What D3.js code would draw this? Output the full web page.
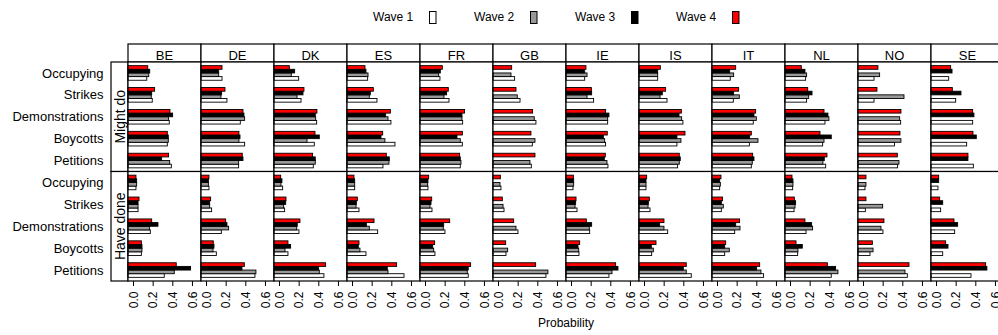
<!DOCTYPE html>
<html>
<head>
<meta charset="utf-8">
<script src="https://cdn.jsdelivr.net/npm/d3@7"></script>
<style>
  body { margin: 0; background: #fff; }
  svg { display: block; font-family: "Liberation Sans", Arial, sans-serif; }
</style>
</head>
<body>
<svg id="chart"></svg>
<script>
// categories
let countries = ["BE", "DE", "DK", "ES", "FR", "GB", "IE", "IS", "IT", "NL", "NO", "SE"];
let activities = ["Occupying", "Strikes", "Demonstrations", "Boycotts", "Petitions"];
let waves = ["Wave 1", "Wave 2", "Wave 3", "Wave 4"];
let rows = ["Might do", "Have done"];
let xTicks = [0, 0.2, 0.4, 0.6];
let waveColors = ["#ffffff", "#999999", "#000000", "#ff0000"];

// one row of 5 values (activities) per country, null = wave not fielded
let mightW1 = [
  [0.140, 0.196, 0.369, 0.349, 0.390], [0.163, 0.213, 0.349, 0.393, 0.332],
  [0.200, 0.224, 0.383, 0.359, 0.349], [0.159, 0.254, 0.396, 0.437, 0.315],
  [0.152, 0.244, 0.383, 0.380, 0.359], [0.169, 0.224, 0.386, 0.349, 0.339],
  [0.139, 0.230, 0.373, 0.352, 0.376], [0.139, 0.234, 0.396, 0.335, 0.342],
  [0.135, 0.166, 0.369, 0.329, 0.349], [0.159, 0.169, 0.356, 0.332, 0.363],
  [0.112, 0.112, 0.383, 0.320, 0.352], [0.129, 0.200, 0.373, 0.312, 0.380]
];
let mightW2 = [
  [0.160, 0.186, 0.362, 0.359, 0.373], [0.129, 0.152, 0.393, 0.335, 0.332],
  [0.125, 0.183, 0.373, 0.285, 0.369], [0.163, 0.176, 0.366, 0.335, 0.376],
  [0.139, 0.193, 0.376, 0.359, 0.366], [0.132, 0.196, 0.369, 0.376, 0.325],
  [0.163, 0.163, 0.373, 0.342, 0.366], [0.139, 0.163, 0.383, 0.376, 0.359],
  [0.169, 0.227, 0.400, 0.417, 0.359], [0.169, 0.190, 0.396, 0.346, 0.335],
  [0.169, 0.417, 0.373, 0.386, 0.366], [null, null, null, null, null]
];
let mightW3 = [
  [0.170, 0.190, 0.403, 0.359, 0.291], [0.129, 0.159, 0.386, 0.346, 0.376],
  [0.159, 0.244, 0.369, 0.410, 0.369], [0.142, 0.186, 0.342, 0.295, 0.380],
  [0.156, 0.220, 0.376, 0.325, 0.359], [null, null, null, null, null],
  [0.139, 0.210, 0.386, 0.329, 0.339], [0.139, 0.186, 0.356, 0.335, 0.369],
  [0.129, 0.169, 0.376, 0.332, 0.376], [0.152, 0.224, 0.386, 0.420, 0.349],
  [null, null, null, null, null], [0.163, 0.254, 0.386, 0.410, 0.325]
];
let mightW4 = [
  [0.150, 0.220, 0.376, 0.349, 0.362], [0.163, 0.193, 0.376, 0.335, 0.369],
  [0.105, 0.254, 0.386, 0.366, 0.342], [0.132, 0.217, 0.390, 0.312, 0.349],
  [0.176, 0.237, 0.403, 0.380, 0.352], [0.139, 0.183, 0.352, 0.335, 0.376],
  [0.152, 0.207, 0.352, 0.369, 0.349], [0.166, 0.220, 0.380, 0.417, 0.359],
  [0.190, 0.220, 0.393, 0.349, 0.363], [0.115, 0.180, 0.346, 0.305, 0.376],
  [0.152, 0.142, 0.386, 0.376, 0.349], [0.149, 0.166, 0.373, 0.376, 0.325]
];

let doneW1 = [
  [0.030, 0.051, 0.176, 0.085, 0.318], [0.030, 0.057, 0.156, 0.105, 0.498],
  [0.037, 0.057, 0.203, 0.091, 0.457], [0.027, 0.071, 0.261, 0.142, 0.529],
  [0.030, 0.071, 0.203, 0.101, 0.440], [0.030, 0.061, 0.203, 0.081, 0.488],
  [0.020, 0.061, 0.190, 0.081, 0.386], [0.020, 0.061, 0.241, 0.078, 0.481],
  [0.027, 0.044, 0.180, 0.078, 0.474], [0.027, 0.041, 0.163, 0.078, 0.420],
  [0.020, 0.024, 0.203, 0.071, 0.451], [0.020, 0.047, 0.190, 0.068, 0.356]
];
let doneW2 = [
  [0.037, 0.051, 0.169, 0.091, 0.420], [0.024, 0.037, 0.230, 0.071, 0.508],
  [0.020, 0.047, 0.180, 0.061, 0.410], [0.027, 0.041, 0.176, 0.081, 0.366],
  [0.027, 0.051, 0.186, 0.088, 0.430], [0.020, 0.051, 0.183, 0.098, 0.508],
  [0.027, 0.041, 0.186, 0.078, 0.417], [0.020, 0.041, 0.203, 0.095, 0.430],
  [0.034, 0.064, 0.234, 0.125, 0.447], [0.030, 0.051, 0.230, 0.081, 0.488],
  [0.030, 0.200, 0.183, 0.102, 0.427], [null, null, null, null, null]
];
let doneW3 = [
  [0.037, 0.051, 0.254, 0.091, 0.586], [0.024, 0.037, 0.213, 0.081, 0.366],
  [0.030, 0.068, 0.186, 0.118, 0.403], [0.027, 0.044, 0.146, 0.064, 0.359],
  [0.030, 0.061, 0.190, 0.078, 0.440], [null, null, null, null, null],
  [0.027, 0.047, 0.210, 0.071, 0.478], [0.020, 0.044, 0.159, 0.074, 0.400],
  [0.027, 0.044, 0.190, 0.078, 0.403], [0.030, 0.057, 0.220, 0.125, 0.464],
  [null, null, null, null, null], [0.027, 0.068, 0.220, 0.122, 0.518]
];
let doneW4 = [
  [0.030, 0.061, 0.190, 0.085, 0.440], [0.030, 0.047, 0.200, 0.074, 0.390],
  [0.017, 0.071, 0.213, 0.091, 0.474], [0.020, 0.054, 0.224, 0.071, 0.454],
  [0.037, 0.068, 0.251, 0.098, 0.464], [0.024, 0.044, 0.159, 0.078, 0.383],
  [0.024, 0.051, 0.156, 0.088, 0.454], [0.027, 0.054, 0.203, 0.122, 0.430],
  [0.040, 0.057, 0.230, 0.088, 0.434], [0.020, 0.044, 0.152, 0.061, 0.380],
  [0.030, 0.030, 0.213, 0.095, 0.468], [0.027, 0.037, 0.183, 0.098, 0.505]
];

let panelData = [[mightW1, mightW2, mightW3, mightW4], [doneW1, doneW2, doneW3, doneW4]];

let svgWidth = 998, svgHeight = 335;
let left = 128, panelW = 73, panelH = 109.5, stripTop = 44, panelTop = 62, leftStrip = 17;

let svg = d3.select('#chart')
    .attr("width", svgWidth)
    .attr("height", svgHeight);

let x = d3.scaleLinear().domain([-0.051, 0.692]).range([0, panelW]);
let y = d3.scaleBand().domain(activities).range([0, panelH]);
let groupH = y.bandwidth() * 2 / 3;
let yWave = d3.scaleBand().domain(waves.slice().reverse()).range([0, groupH]);

// legend
let legend = svg.append("g");
waves.forEach(function (w, i) {
    let lx = 373 + i * 101;
    legend.append("text")
        .attr("x", lx).attr("y", 21)
        .style("font-size", "12px")
        .text(w);
    legend.append("rect")
        .attr("x", lx + 56.5).attr("y", 11.5)
        .attr("width", 6.5).attr("height", 12)
        .attr("fill", waveColors[i])
        .attr("stroke", "#000").attr("stroke-width", 1);
});

// country strips
countries.forEach(function (c, ci) {
    let sx = left + ci * panelW;
    svg.append("rect")
        .attr("x", sx).attr("y", stripTop)
        .attr("width", panelW).attr("height", panelTop - stripTop)
        .attr("fill", "#fff").attr("stroke", "#000").attr("stroke-width", 1.2);
    svg.append("text")
        .attr("x", sx + panelW / 2).attr("y", 59.5)
        .attr("text-anchor", "middle")
        .style("font-size", "13px")
        .text(c);
});

rows.forEach(function (r, ri) {
    let py = panelTop + ri * panelH;

    // left strip with row label
    svg.append("rect")
        .attr("x", left - leftStrip).attr("y", py)
        .attr("width", leftStrip).attr("height", panelH)
        .attr("fill", "#fff").attr("stroke", "#000").attr("stroke-width", 1.2);
    svg.append("text")
        .attr("transform", "translate(" + (left - 3.5) + "," + (py + panelH / 2) + ") rotate(-90)")
        .attr("text-anchor", "middle")
        .style("font-size", "14px")
        .text(r);

    // activity labels
    activities.forEach(function (a) {
        svg.append("text")
            .attr("x", 103.5)
            .attr("y", py + y(a) + y.bandwidth() / 2)
            .attr("dy", "0.35em")
            .attr("text-anchor", "end")
            .style("font-size", "13px")
            .text(a);
    });

    countries.forEach(function (c, ci) {
        let g = svg.append("g")
            .attr("transform", "translate(" + (left + ci * panelW) + "," + py + ")");

        g.append("rect")
            .attr("width", panelW).attr("height", panelH)
            .attr("fill", "#fff");

        let bars = [];
        waves.forEach(function (w, wi) {
            activities.forEach(function (a, ai) {
                let v = panelData[ri][wi][ci][ai];
                if (v !== null) bars.push({ wave: w, wi: wi, act: a, value: v });
            });
        });

        g.selectAll("rect.bar")
            .data(bars)
            .enter()
            .append("rect")
            .attr("class", "bar")
            .attr("x", 0)
            .attr("y", function (d) {
                return y(d.act) + (y.bandwidth() - groupH) / 2 + yWave(d.wave);
            })
            .attr("width", function (d) { return x(d.value); })
            .attr("height", yWave.bandwidth())
            .attr("fill", function (d) { return waveColors[d.wi]; })
            .attr("stroke", "#000")
            .attr("stroke-width", 0.9);

        g.append("rect")
            .attr("width", panelW).attr("height", panelH)
            .attr("fill", "none").attr("stroke", "#000").attr("stroke-width", 1.2);

        if (ri === rows.length - 1) {
            let axis = g.append("g")
                .attr("transform", "translate(0," + panelH + ")")
                .call(d3.axisBottom(x).tickValues(xTicks).tickSize(5).tickFormat(d3.format(".1f")));
            axis.select(".domain").remove();
            axis.selectAll("line").attr("stroke", "#000");
            axis.selectAll("text")
                .attr("transform", "translate(0,10.5) rotate(-90)")
                .attr("x", 0).attr("y", 0).attr("dy", "0.35em")
                .attr("text-anchor", "end")
                .attr("fill", "#000")
                .style("font-size", "12px")
                .style("font-family", "Liberation Sans, Arial, sans-serif");
        }
    });
});

svg.append("text")
    .attr("x", left + countries.length * panelW / 2)
    .attr("y", 327)
    .attr("text-anchor", "middle")
    .style("font-size", "12px")
    .text("Probability");
</script>
</body>
</html>
